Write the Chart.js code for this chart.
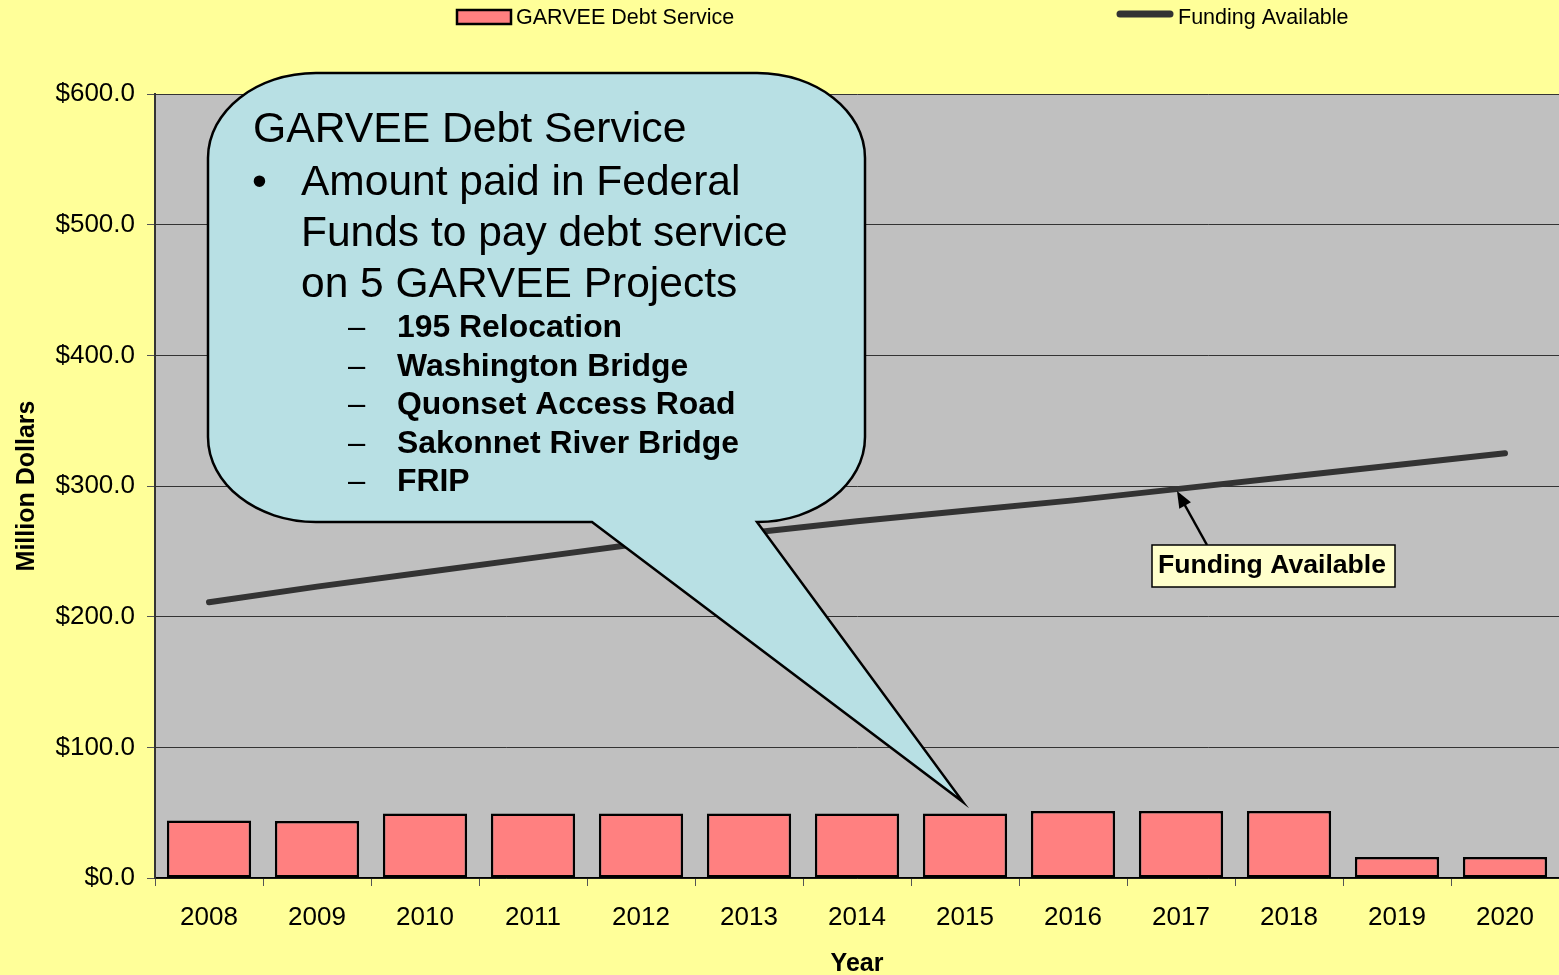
<!DOCTYPE html>
<html>
<head>
<meta charset="utf-8">
<title>GARVEE Debt Service</title>
<script src="https://cdn.jsdelivr.net/npm/chart.js@4.4.1/dist/chart.umd.min.js"></script>
<style>
  html, body { margin: 0; padding: 0; background: #FFFF99; }
  #wrap { width: 1559px; height: 975px; }
</style>
</head>
<body>
<div id="wrap"><canvas id="grafico" width="1559" height="975"></canvas></div>
<script>
// datos
const years = ['2008', '2009', '2010', '2011', '2012', '2013', '2014', '2015', '2016', '2017', '2018', '2019', '2020'];
const debtService = [44.0, 43.6, 49.3, 49.3, 49.3, 49.3, 49.3, 49.3, 51.2, 51.2, 51.2, 16.0, 16.0];
const fundingAvailable = [211, 223, 234, 245, 256, 264, 273, 281, 289, 298, 307, 316, 325];
const yTicks = [0, 100, 200, 300, 400, 500, 600];

const calloutTitle = 'GARVEE Debt Service';
const calloutBullet = ['Amount paid in Federal', 'Funds to pay debt service', 'on 5 GARVEE Projects'];
const projects = ['195 Relocation', 'Washington Bridge', 'Quonset Access Road', 'Sakonnet River Bridge', 'FRIP'];
const noteLabel = 'Funding Available';

const FONT = '"Liberation Sans", Arial, sans-serif';
const ctx = document.getElementById('grafico').getContext('2d');

// fondo amarillo + área gris
const fondo = {
  id: 'fondo',
  beforeDraw(chart) {
    const c = chart.ctx;
    const a = chart.chartArea;
    c.save();
    c.fillStyle = '#FFFF99';
    c.fillRect(0, 0, chart.width, chart.height);
    c.fillStyle = '#C0C0C0';
    c.fillRect(a.left, a.top, a.right - a.left, a.bottom - a.top);
    c.restore();
  }
};

// globo con texto, nota y leyenda
const extras = {
  id: 'extras',
  afterDatasetsDraw(chart) {
    const c = chart.ctx;
    c.save();

    // globo
    const x0 = 208, y0 = 73, x1 = 865, y1 = 522, rx = 108, ry = 85, k = 0.5523;
    c.beginPath();
    c.moveTo(x0 + rx, y0);
    c.lineTo(x1 - rx, y0);
    c.bezierCurveTo(x1 - rx + rx * k, y0, x1, y0 + ry - ry * k, x1, y0 + ry);
    c.lineTo(x1, y1 - ry);
    c.bezierCurveTo(x1, y1 - ry + ry * k, x1 - rx + rx * k, y1, x1 - rx, y1);
    c.lineTo(757, y1);
    c.lineTo(963, 802);
    c.lineTo(592, y1);
    c.lineTo(x0 + rx, y1);
    c.bezierCurveTo(x0 + rx - rx * k, y1, x0, y1 - ry + ry * k, x0, y1 - ry);
    c.lineTo(x0, y0 + ry);
    c.bezierCurveTo(x0, y0 + ry - ry * k, x0 + rx - rx * k, y0, x0 + rx, y0);
    c.closePath();
    c.fillStyle = '#B8E0E4';
    c.fill();
    c.lineWidth = 2.5;
    c.strokeStyle = '#000';
    c.stroke();

    c.fillStyle = '#000';
    c.textBaseline = 'alphabetic';
    c.textAlign = 'left';
    c.font = '42.7px ' + FONT;
    c.fillText(calloutTitle, 253, 142);
    c.font = '42.5px ' + FONT;
    c.fillText('\u2022', 252, 195);
    calloutBullet.forEach((t, i) => c.fillText(t, 301, 195 + i * 51));

    projects.forEach((t, i) => {
      const y = 337 + i * 38.5;
      c.font = '31px ' + FONT;
      c.fillText('\u2013', 348, y);
      c.font = 'bold 31.9px ' + FONT;
      c.fillText(t, 397, y);
    });

    // nota "Funding Available"
    c.beginPath();
    c.moveTo(1207, 545);
    c.lineTo(1182, 500);
    c.lineWidth = 2.5;
    c.strokeStyle = '#000';
    c.stroke();
    const ang = Math.atan2(491 - 545, 1177 - 1207);
    c.beginPath();
    c.moveTo(1177, 491);
    c.lineTo(1177 - 18 * Math.cos(ang - 0.38), 491 - 18 * Math.sin(ang - 0.38));
    c.lineTo(1177 - 18 * Math.cos(ang + 0.38), 491 - 18 * Math.sin(ang + 0.38));
    c.closePath();
    c.fillStyle = '#000';
    c.fill();

    c.fillStyle = '#FFFFCC';
    c.fillRect(1152, 545, 243, 42);
    c.lineWidth = 1.5;
    c.strokeRect(1152, 545, 243, 42);
    c.fillStyle = '#000';
    c.font = 'bold 26.6px ' + FONT;
    c.fillText(noteLabel, 1158, 573);

    c.restore();
  },
  afterDraw(chart) {
    // leyenda
    const c = chart.ctx;
    const ds = chart.data.datasets;
    c.save();
    c.font = '21.5px ' + FONT;
    c.textBaseline = 'middle';
    c.fillStyle = ds[0].backgroundColor;
    c.fillRect(457, 10, 54, 14);
    c.lineWidth = 2.5;
    c.strokeStyle = '#000';
    c.strokeRect(457, 10, 54, 14);
    c.fillStyle = '#000';
    c.fillText(ds[0].label, 516, 18);

    c.beginPath();
    c.moveTo(1120, 14);
    c.lineTo(1170, 14);
    c.lineWidth = 7;
    c.lineCap = 'round';
    c.strokeStyle = ds[1].borderColor;
    c.stroke();
    c.fillStyle = '#000';
    c.fillText(ds[1].label, 1178, 18);
    c.restore();
  }
};

new Chart(ctx, {
  type: 'bar',
  data: {
    labels: years,
    datasets: [
      {
        type: 'bar',
        label: 'GARVEE Debt Service',
        data: debtService,
        backgroundColor: '#FF8080',
        borderColor: '#000',
        borderWidth: 2.5,
        borderSkipped: false,
        barPercentage: 0.78,
        categoryPercentage: 1,
        order: 2
      },
      {
        type: 'line',
        label: 'Funding Available',
        data: fundingAvailable,
        borderColor: '#333333',
        borderWidth: 6,
        borderCapStyle: 'round',
        pointRadius: 0,
        tension: 0,
        fill: false,
        order: 1
      }
    ]
  },
  options: {
    responsive: false,
    animation: false,
    layout: { padding: { top: 94, right: 0, left: 0, bottom: 0 } },
    plugins: {
      legend: { display: false },
      tooltip: { enabled: false }
    },
    scales: {
      x: {
        offset: true,
        grid: { display: true, drawOnChartArea: false, drawTicks: true, tickLength: 8, tickColor: '#555', offset: true },
        border: { color: '#000', width: 1.5 },
        ticks: { color: '#000', font: { family: FONT, size: 26 }, padding: 16, maxRotation: 0 },
        title: { display: true, text: 'Year', color: '#000', font: { family: FONT, size: 25, weight: 'bold', lineHeight: 0.9 }, padding: { top: 0, bottom: 0 } },
        afterFit(scale) { scale.height = 97; }
      },
      y: {
        min: 0,
        max: 600,
        afterBuildTicks(scale) { scale.ticks = yTicks.map(v => ({ value: v })); },
        grid: { color: '#333', lineWidth: 1, tickLength: 8, tickColor: '#555' },
        border: { color: '#333', width: 2 },
        ticks: { color: '#000', font: { family: FONT, size: 26 }, padding: 12, callback: v => '$' + v.toFixed(1) },
        title: { display: true, text: 'Million Dollars', color: '#000', font: { family: FONT, size: 25, weight: 'bold', lineHeight: 1 }, padding: { top: 15, bottom: 0 } },
        afterFit(scale) { scale.width = 155; }
      }
    }
  },
  plugins: [fondo, extras]
});
</script>
</body>
</html>
